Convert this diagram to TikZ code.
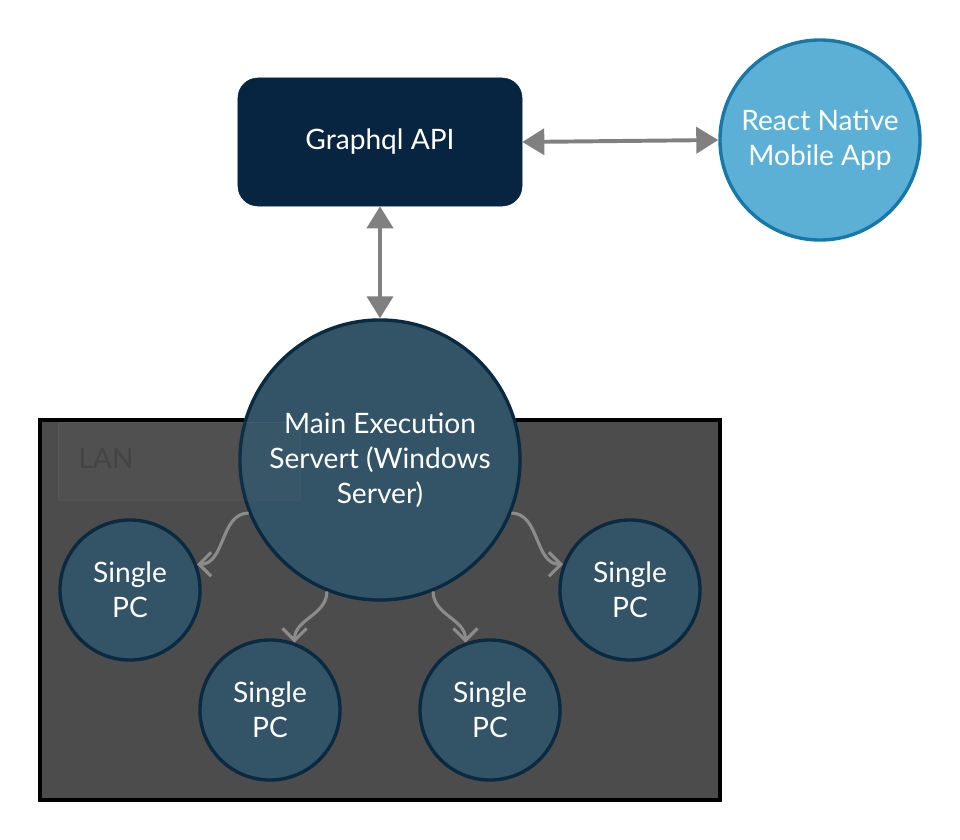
\documentclass[tikz,border=0pt]{standalone}
\usepackage{fontspec}
\setmainfont{Lato}
\usetikzlibrary{arrows.meta}
\definecolor{apifill}{HTML}{072540}
\definecolor{mainfill}{HTML}{335366}
\definecolor{mainline}{HTML}{0A2A42}
\definecolor{appfill}{HTML}{5CB0D6}
\definecolor{appline}{HTML}{1677A8}
\definecolor{lanfill}{HTML}{4C4C4C}
\definecolor{labeltext}{HTML}{444444}
\definecolor{linkgray}{HTML}{808080}
\definecolor{wiregray}{HTML}{8C8C8C}
\tikzset{
  txt/.style={text=white, align=center, font=\fontsize{20}{25}\selectfont},
  pc/.style={txt, draw=mainline, line width=2.4pt, circle, fill=mainfill, minimum size=3.5cm},
  link/.style={draw=linkgray, line width=2.8pt, {Triangle[length=0.55cm,width=0.65cm]}-{Triangle[length=0.55cm,width=0.65cm]}},
  wire/.style={draw=wiregray, line width=2.2pt, -{Straight Barb[length=0.3cm,width=0.6cm]}}
}
\begin{document}
\begin{tikzpicture}[x=0.025cm,y=-0.025cm]
\useasboundingbox (0,0) rectangle (960,840);

% LAN area
\path[draw=black, line width=2.8pt, fill=lanfill] (40,420) rectangle (720,800);

\node[txt, draw=apifill, fill=apifill, rounded corners=0.5cm, minimum width=7.1cm, minimum height=3.2cm] (api) at (380,142) {Graphql API};
\node[txt, draw=appline, line width=2.4pt, circle, fill=appfill, minimum size=5cm] (app) at (820,140) {React Native\\Mobile App};
\node[pc, minimum size=7cm] (main) at (380,460) {Main Execution\\Servert (Windows\\Server)};

% faint label box over the LAN area
\path[draw=white, draw opacity=0.04, fill=white, fill opacity=0.025] (58,422) rectangle (300,500);
\node[font=\fontsize{20}{25}\selectfont, text=labeltext] (lan) at (106,458) {LAN};

\node[pc] (pc1) at (130,590) {Single\\PC};
\node[pc] (pc2) at (270,710) {Single\\PC};
\node[pc] (pc3) at (490,710) {Single\\PC};
\node[pc] (pc4) at (630,590) {Single\\PC};

\path[link] (api.east) -- (app.west);
\path[link] (api.south) -- (main.north);

\path[wire] (main.202) to[out=180,in=0] (pc1.21);
\path[wire] (main.248) to[out=-90,in=90] (pc2.70);
\path[wire] (main.292) to[out=-90,in=90] (pc3.110);
\path[wire] (main.338) to[out=0,in=180] (pc4.159);
\end{tikzpicture}
\end{document}
